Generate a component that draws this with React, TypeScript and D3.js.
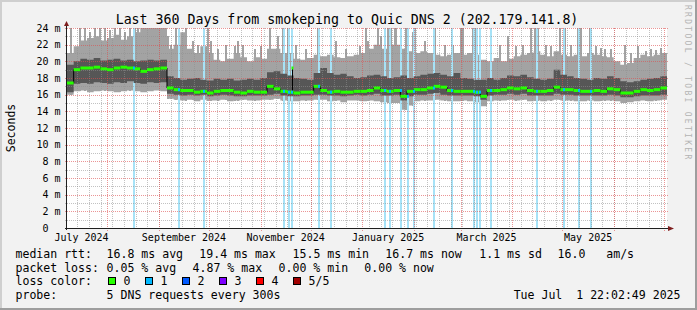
import React from 'react';
import * as d3 from 'd3';

// ---------- data ----------
const START = Date.UTC(2024, 6, 7, 19, 12);
const DAY = 86400000;
const SPAN_DAYS = 360;
const BUCKET_DAYS = 4;

const TITLE = 'Last 360 Days from smokeping to Quic DNS 2 (202.179.141.8)';

const median = [
  17.4, 19.0, 19.2, 19.2, 19.3, 19.1, 19.0, 19.2, 19.3, 19.2, 19.1, 18.8, 19.0, 19.1, 19.2,
  16.8, 16.6, 16.5, 16.5, 16.3, 16.4, 16.2, 16.4, 16.5, 16.5, 16.3, 16.2, 16.4, 16.3, 16.3,
  17.0, 16.7, 16.4, 16.3, 16.2, 16.3, 16.3, 17.0, 16.5, 16.3, 16.4, 16.3, 16.3, 16.4, 16.4,
  16.5, 16.8, 16.5, 16.4, 16.5, 15.8, 16.4, 16.6, 16.6, 16.8, 17.0, 16.9, 16.5, 16.4, 16.4,
  16.4, 16.3, 15.8, 16.5, 16.5, 16.6, 16.8, 16.7, 16.8, 16.5, 16.4, 16.4, 16.5, 16.9, 16.6,
  16.6, 16.5, 16.4, 16.4, 16.5, 16.4, 16.7, 16.6, 16.2, 16.2, 16.4, 16.6, 16.5, 16.6, 16.8,
];

const darkHi = [
  19.6, 20.0, 20.3, 20.2, 20.4, 20.1, 20.2, 20.3, 20.1, 20.2, 20.0, 20.1, 20.2, 20.1, 20.2,
  18.2, 18.0, 17.8, 17.9, 18.0, 17.8, 17.7, 17.9, 17.8, 17.9, 17.7, 17.8, 17.9, 17.8, 18.0,
  18.7, 18.8, 18.5, 18.3, 18.0, 17.9, 17.8, 18.6, 19.2, 18.6, 18.4, 18.5, 18.2, 18.0, 18.1,
  18.3, 18.4, 18.2, 18.0, 18.1, 18.3, 18.0, 18.2, 18.4, 18.5, 18.6, 18.4, 18.2, 18.6, 18.0,
  17.9, 17.8, 17.8, 18.0, 17.8, 18.0, 18.3, 18.2, 18.4, 18.1, 17.9, 17.8, 17.9, 19.0, 18.4,
  18.2, 18.0, 17.9, 17.8, 18.0, 17.9, 18.2, 18.0, 17.6, 17.5, 17.6, 17.8, 17.9, 18.0, 18.2,
];

const darkLo = [
  16.3, 17.3, 17.4, 17.3, 17.5, 17.4, 17.3, 17.5, 17.4, 17.6, 17.4, 17.3, 17.5, 17.4, 17.5,
  16.1, 16.0, 15.9, 16.0, 15.9, 16.0, 15.8, 15.9, 16.0, 15.9, 15.8, 15.8, 15.9, 15.9, 15.9,
  16.0, 16.1, 15.9, 15.8, 15.8, 15.9, 15.9, 16.0, 16.0, 15.9, 15.9, 15.8, 15.9, 16.0, 15.9,
  16.0, 16.1, 15.9, 15.9, 16.0, 15.3, 15.8, 16.0, 16.0, 16.1, 16.2, 16.0, 15.9, 15.9, 15.9,
  15.9, 15.8, 15.4, 15.9, 16.0, 16.0, 16.1, 16.0, 16.1, 15.9, 15.9, 15.9, 15.9, 16.1, 16.0,
  16.0, 15.9, 15.9, 15.9, 15.9, 15.9, 16.0, 15.9, 15.7, 15.7, 15.8, 15.9, 15.9, 15.9, 16.0,
];

const lightHi = [
  21.0, 21.8, 22.5, 22.8, 23.0, 22.5, 22.8, 23.2, 22.6, 23.0, 23.5, 24.5, 24.5, 24.5, 24.0,
  21.5, 22.0, 23.5, 21.5, 21.0, 21.8, 21.0, 20.2, 20.0, 20.3, 21.0, 20.5, 20.0, 20.5, 20.3,
  21.5, 21.5, 21.0, 21.0, 20.3, 20.2, 20.4, 20.8, 20.6, 20.8, 20.5, 20.4, 20.6, 20.8, 21.0,
  21.5, 22.0, 21.5, 22.0, 22.0, 21.5, 21.2, 21.0, 21.2, 21.0, 20.8, 20.6, 20.8, 21.0, 20.8,
  21.0, 20.8, 20.2, 20.0, 20.4, 20.0, 20.3, 20.6, 20.8, 21.0, 21.2, 20.8, 20.6, 21.2, 20.8,
  20.6, 20.8, 20.6, 21.0, 20.8, 20.6, 20.5, 20.0, 19.6, 19.8, 20.4, 20.8, 20.6, 20.8, 21.0,
];

const lightLo = [
  16.0, 16.4, 16.5, 16.3, 16.4, 16.5, 16.4, 16.3, 16.4, 16.5, 16.4, 16.3, 16.4, 16.5, 16.4,
  15.5, 15.4, 15.3, 15.4, 15.2, 15.4, 15.3, 15.3, 15.4, 15.2, 15.3, 15.4, 15.3, 15.3, 15.4,
  15.4, 15.5, 15.3, 15.2, 15.2, 15.3, 15.3, 15.4, 15.4, 15.2, 15.3, 15.1, 15.3, 15.3, 15.2,
  15.3, 15.2, 15.1, 15.0, 15.0, 14.2, 14.7, 15.2, 15.3, 15.3, 15.4, 15.3, 15.2, 15.2, 15.3,
  15.2, 15.1, 14.6, 15.2, 15.3, 15.3, 15.4, 15.3, 15.4, 15.2, 15.3, 15.2, 15.3, 15.4, 15.3,
  15.3, 15.2, 15.2, 15.3, 15.2, 15.3, 15.3, 15.2, 15.0, 15.1, 15.2, 15.3, 15.2, 15.3, 15.4,
];

// single-day peaks of the slowest requests (day offset, ms)
const spikeDays = [
  2, 7, 10, 13, 16, 19, 22, 25, 28, 31, 34, 37, 40, 42,
  60, 62, 65, 71, 75, 78, 84, 86, 90, 95, 100, 102, 105, 112, 116, 121, 126, 129, 132,
  137, 143, 150, 158, 161, 167, 175, 179, 180, 186, 188, 190, 192, 194, 196, 197, 200, 203,
  207, 208, 214, 220, 226, 231, 236, 237, 243, 245, 247, 254, 259, 264, 269, 273, 278, 280,
  282, 287, 290, 295, 298, 302, 306, 308, 313, 314, 317, 320, 322, 326, 334, 338, 342, 347,
  350, 353, 356,
];
const spikeValues = [
  24, 24, 24, 23.5, 24, 24, 24, 23.8, 24, 24, 23.5, 24, 24, 24,
  23, 22, 24, 24, 22.5, 22, 24, 22.5, 21.5, 22, 21.8, 22.5, 22, 21.5, 21.8, 24, 23, 24, 24,
  22, 21.5, 24, 24, 22.5, 21.5, 21.8, 24, 22.5, 24, 23, 24, 24, 24, 24, 24, 24, 24,
  23.5, 24, 22.5, 24, 22, 22, 24, 24, 24, 24, 24, 24, 22, 23, 21.8, 22, 24, 24,
  24, 22, 21.8, 24, 24, 22, 24, 24, 24, 24, 21.8, 21.6, 21.5, 21.5, 22, 21, 21.8, 21.3,
  21.5, 21.4, 21.6,
];

// days with one lost request (day offset)
const lossDays = [
  39.4, 66.4, 81.4, 129.4, 132.4, 134.4, 150.4, 157.8, 190.4, 193.4, 199.8, 203.8, 207.8,
  219.4, 230.4, 243.4, 245.4, 247.4, 253.8, 281.4, 297.4, 306.4, 313.8,
];

const medianSpikeDays = [135];
const medianSpikeValues = [19.2];

const yTicks = [0, 2, 4, 6, 8, 10, 12, 14, 16, 18, 20, 22, 24];

const rttLabel = 'median rtt:';
const rttItems = ['16.8 ms avg', '19.4 ms max', '15.5 ms min', '16.7 ms now', '1.1 ms sd', '16.0   am/s'];
const lossLabel = 'packet loss:';
const lossItems = ['0.05 % avg', '4.87 % max', '0.00 % min', '0.00 % now'];
const colorLabel = 'loss color:';
const lossColorLabels = ['0', '1', '2', '3', '4', '5/5'];
const probeLabel = 'probe:';
const probeText = '5 DNS requests every 300s';
const stamp = 'Tue Jul  1 22:02:49 2025';
const watermark = 'RRDTOOL / TOBI OETIKER';

// ---------- styles / layout ----------
const LOSS_COLORS = ['#26ff00', '#00b8ff', '#0059ff', '#7e00ff', '#ff0000', '#a10000'];
const RTT_X = [106.6, 199.3, 292.6, 385.3, 479.3, 557.6];
const LOSS_X = [106.6, 192.6, 278.6, 364.3];
const BOX_X = [108.5, 145.5, 182.5, 219.5, 256.5, 293.5];
const FONT = "'DejaVu Sans Mono', monospace";
const pre = (s: string) => s.replace(/ /g, '\u00a0');

export default function App() {
  const W = 697;
  const H = 310;
  const x0 = 67, x1 = 667, yTop = 28, yBot = 228;
  const start = new Date(START);
  const end = new Date(START + SPAN_DAYS * DAY);
  const x = d3.scaleUtc().domain([start, end]).range([x0, x1]);
  const y = d3.scaleLinear().domain([0, 24]).range([yBot, yTop]).clamp(true);
  const dayDate = (d: number) => new Date(START + d * DAY);
  const bx = (i: number) => x(dayDate(i * BUCKET_DAYS));
  const n = median.length;
  const idx = d3.range(n + 1);
  const cl = (i: number) => Math.min(i, n - 1);

  const area = (lo: number[], hi: number[]) =>
    d3.area<number>()
      .curve(d3.curveStepAfter)
      .x((i) => bx(i))
      .y0((i) => y(lo[cl(i)]))
      .y1((i) => y(hi[cl(i)]))(idx) || '';

  const medLine = d3.line<number>()
    .curve(d3.curveStepAfter)
    .x((i) => bx(i))
    .y((i) => y(median[cl(i)]))(idx) || '';

  const months = d3.utcMonth.range(start, end);
  const weeks = d3.utcSunday.range(start, end);
  const labelMonths = d3.utcMonth.every(2)!.range(d3.utcMonth.floor(start), end)
    .map((m) => {
      const next = d3.utcMonth.offset(m, 1);
      return { m, mid: new Date((m.getTime() + next.getTime()) / 2) };
    })
    .filter((o) => o.mid >= start && o.mid <= end);
  const fmt = d3.utcFormat('%B %Y');
  const minorY = d3.range(1, 24, 2);

  const majorColor = 'rgba(222,79,79,0.6)';
  const minorColor = 'rgba(143,143,143,0.55)';

  const bucketOf = (day: number) => Math.min(n - 1, Math.floor(day / BUCKET_DAYS));

  return (
    <svg width={W} height={H} style={{ position: 'absolute', left: 0, top: 0, display: 'block' }}
      fontFamily={FONT}>
      <rect x={0} y={0} width={W} height={H} fill="#f2f2f2" />
      {/* bevel */}
      <rect x={0} y={0} width={W} height={2} fill="#cfcfcf" />
      <rect x={0} y={0} width={2} height={H} fill="#cfcfcf" />
      <rect x={0} y={H - 2} width={W} height={2} fill="#9e9e9e" />
      <rect x={W - 2} y={0} width={2} height={H} fill="#9e9e9e" />

      {/* canvas */}
      <rect x={x0} y={yTop} width={x1 - x0} height={yBot - yTop} fill="#ffffff" />

      {/* light smoke */}
      <path d={area(lightLo, lightHi)} fill="#a3a3a3" />
      {spikeDays.map((d, k) => {
        const b = bucketOf(d);
        const xa = Math.round(x(dayDate(d)));
        return (
          <rect key={'s' + k} x={xa} width={2} y={y(spikeValues[k])}
            height={Math.max(0, y(lightLo[b]) - y(spikeValues[k]))} fill="#a3a3a3" shapeRendering="crispEdges" />
        );
      })}

      {/* loss background */}
      {lossDays.map((d, k) => (
        <rect key={'l' + k} x={Math.round(x(dayDate(d)))} width={2} y={yTop} height={yBot - yTop}
          fill="#a6e2f7" shapeRendering="crispEdges" />
      ))}

      {/* dark smoke */}
      <path d={area(darkLo, darkHi)} fill="#565656" />

      {/* grid */}
      {minorY.map((v) => (
        <line key={'my' + v} x1={x0 - 2} x2={x1 + 2} y1={Math.round(y(v)) + 0.5} y2={Math.round(y(v)) + 0.5}
          stroke={minorColor} strokeDasharray="1,1" />
      ))}
      {weeks.map((w, k) => (
        <line key={'w' + k} x1={Math.round(x(w)) + 0.5} x2={Math.round(x(w)) + 0.5} y1={yTop} y2={yBot + 2}
          stroke={minorColor} strokeDasharray="1,1" />
      ))}
      {yTicks.filter((v) => v > 0).map((v) => (
        <line key={'My' + v} x1={x0 - 2} x2={x1 + 2} y1={Math.round(y(v)) + 0.5} y2={Math.round(y(v)) + 0.5}
          stroke={majorColor} strokeDasharray="1,1" />
      ))}
      {months.map((m, k) => (
        <line key={'m' + k} x1={Math.round(x(m)) + 0.5} x2={Math.round(x(m)) + 0.5} y1={yTop} y2={yBot + 3}
          stroke={majorColor} strokeDasharray="1,1" />
      ))}

      {/* median */}
      <path d={medLine} fill="none" stroke="#000" strokeWidth={1} />
      {medianSpikeDays.map((d, k) => {
        const b = bucketOf(d);
        const xa = Math.round(x(dayDate(d))) + 0.5;
        return (
          <g key={'ms' + k}>
            <line x1={xa} x2={xa} y1={y(median[b])} y2={y(medianSpikeValues[k])} stroke="#000" />
            <rect x={xa - 1} width={2} y={y(medianSpikeValues[k]) - 1.5} height={3} fill={LOSS_COLORS[0]} />
          </g>
        );
      })}
      {median.map((v, i) => (
        <rect key={'g' + i} x={bx(i)} width={bx(i + 1) - bx(i)} y={y(v) - 1.5} height={3} fill={LOSS_COLORS[0]} />
      ))}
      {lossDays.map((d, k) => (
        <rect key={'lb' + k} x={Math.round(x(dayDate(d)))} width={2} y={y(median[bucketOf(d)]) - 1.5} height={3}
          fill={LOSS_COLORS[1]} />
      ))}

      {/* axes */}
      <line x1={x0 - 0.5} x2={x0 - 0.5} y1={yBot + 2} y2={yTop - 4} stroke="#1f1f1f" />
      <line x1={x0 - 2} x2={x1 + 3} y1={yBot + 0.5} y2={yBot + 0.5} stroke="#1f1f1f" />
      <path d={`M${x0 - 3},${yTop - 2} L${x0 + 2},${yTop - 2} L${x0 - 0.5},${yTop - 7} Z`} fill="#7f1f1f" />
      <path d={`M${x1 + 1},${yBot - 2} L${x1 + 1},${yBot + 3} L${x1 + 7},${yBot + 0.5} Z`} fill="#7f1f1f" />

      {/* y labels */}
      {yTicks.map((v) => (
        <text key={'yl' + v} x={v === 0 ? 48.5 : 60.5} y={y(v) + 3.6} fontSize={10} textAnchor="end" fill="#000">
          {v === 0 ? '0' : pre(`${v} m`)}
        </text>
      ))}

      {/* x labels */}
      {labelMonths.map((o, k) => (
        <text key={'xl' + k} x={x(o.mid)} y={240.5} fontSize={10} textAnchor="middle" fill="#000">
          {pre(fmt(o.m))}
        </text>
      ))}

      {/* title */}
      <text x={347} y={24} fontSize={13.25} textAnchor="middle" fill="#000">{pre(TITLE)}</text>

      {/* vertical label */}
      <text transform={`translate(15,128) rotate(-90)`} fontSize={11.5} textAnchor="middle" fill="#000">Seconds</text>

      {/* watermark */}
      <text transform={`translate(685,5) rotate(90)`} fontSize={8} letterSpacing={2.3} fill="#b4b4b4">{pre(watermark)}</text>

      {/* legend */}
      <g fontSize={11.55} fill="#000">
        <text x={15.5} y={258}>{pre(rttLabel)}</text>
        {rttItems.map((t, k) => (
          <text key={'r' + k} x={RTT_X[k]} y={258}>{pre(t)}</text>
        ))}
        <text x={15.5} y={271.7}>{pre(lossLabel)}</text>
        {lossItems.map((t, k) => (
          <text key={'p' + k} x={LOSS_X[k]} y={271.7}>{pre(t)}</text>
        ))}
        <text x={15.5} y={285.3}>{pre(colorLabel)}</text>
        {lossColorLabels.map((t, k) => (
          <g key={'c' + k}>
            <rect x={BOX_X[k]} y={277.5} width={7} height={7} fill={LOSS_COLORS[k]} stroke="#000" strokeWidth={1} />
            <text x={BOX_X[k] + 15} y={285.3}>{t}</text>
          </g>
        ))}
        <text x={15.5} y={299}>{pre(probeLabel)}</text>
        <text x={106.6} y={299}>{pre(probeText)}</text>
        <text x={680.5} y={299} textAnchor="end">{pre(stamp)}</text>
      </g>
    </svg>
  );
}
